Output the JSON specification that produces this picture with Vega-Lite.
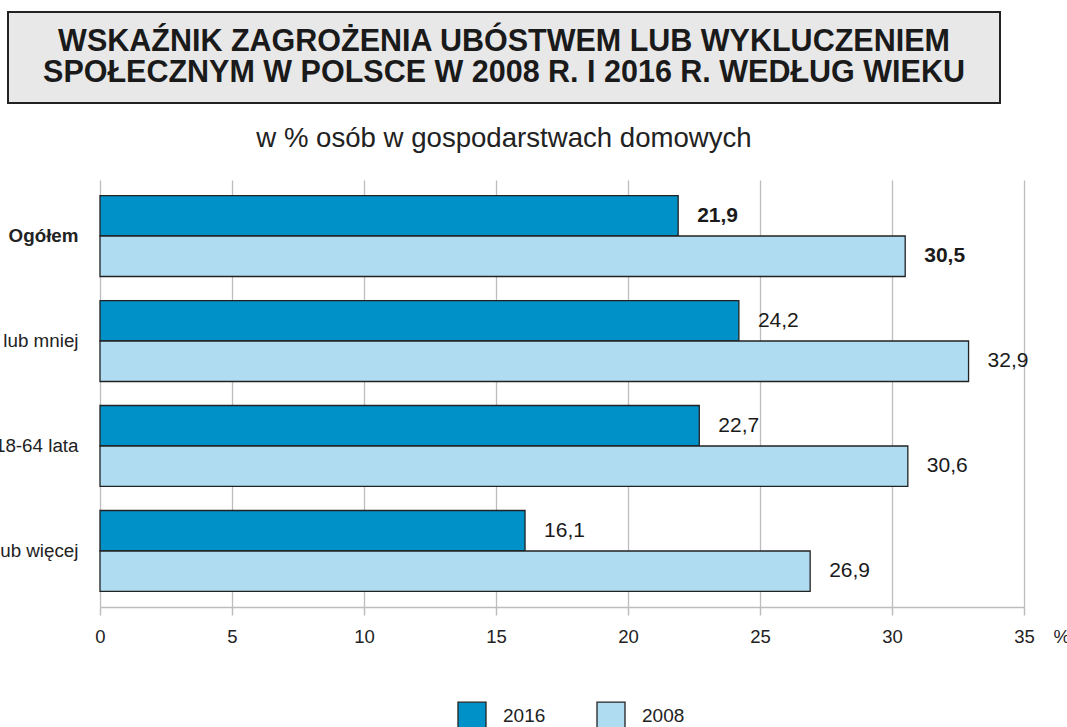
{
  "$schema": "https://vega.github.io/schema/vega-lite/v6.json",
  "padding": {"left": -56, "top": 11, "right": 0, "bottom": 0},
  "autosize": {"type": "pad"},
  "background": "white",
  "config": {
    "font": "Liberation Sans",
    "locale": {"number": {"decimal": ",", "thousands": " ", "grouping": [3], "currency": ["", " zł"]}},
    "view": {"stroke": null},
    "axis": {"labelColor": "#222222", "labelFont": "Liberation Sans", "titleFont": "Liberation Sans"},
    "legend": {"labelFont": "Liberation Sans"},
    "title": {"font": "Liberation Sans"}
  },
  "spacing": 26,
  "resolve": {"legend": {"fill": "independent"}},
  "vconcat": [
    {
      "width": 992,
      "height": 91,
      "view": {"fill": "#E8E8E8", "stroke": "#222222", "strokeWidth": 2},
      "title": {"text": "w % osób w gospodarstwach domowych", "orient": "bottom", "anchor": "middle", "fontSize": 27.6, "fontWeight": "normal", "color": "#222222", "offset": 22},
      "data": {"values": [
        {"linia": 1, "tekst": "WSKAŹNIK ZAGROŻENIA UBÓSTWEM LUB WYKLUCZENIEM"},
        {"linia": 2, "tekst": "SPOŁECZNYM W POLSCE  W 2008 R. I 2016 R. WEDŁUG WIEKU"}
      ]},
      "mark": {"type": "text", "fontSize": 30.5, "fontWeight": "bold", "color": "#1a1a1a", "baseline": "middle"},
      "encoding": {
        "y": {"field": "linia", "type": "ordinal", "scale": {"padding": 0.944}, "axis": null},
        "text": {"field": "tekst"}
      }
    },
    {
      "width": 1016,
      "height": 427,
      "data": {"values": [
        {"grupa": "Ogółem", "rok": "2016", "wartosc": 21.9},
        {"grupa": "Ogółem", "rok": "2008", "wartosc": 30.5},
        {"grupa": "17 lat lub mniej", "rok": "2016", "wartosc": 24.2},
        {"grupa": "17 lat lub mniej", "rok": "2008", "wartosc": 32.9},
        {"grupa": "18-64 lata", "rok": "2016", "wartosc": 22.7},
        {"grupa": "18-64 lata", "rok": "2008", "wartosc": 30.6},
        {"grupa": "65 lat lub więcej", "rok": "2016", "wartosc": 16.1},
        {"grupa": "65 lat lub więcej", "rok": "2008", "wartosc": 26.9}
      ]},
      "encoding": {
        "y": {"field": "grupa", "type": "nominal", "sort": null,
              "scale": {"paddingInner": 0.229, "paddingOuter": 0.148},
              "axis": {"title": null, "domain": false, "ticks": false, "grid": false, "offset": -92, "labelPadding": 22, "labelFontSize": 18.8, "labelLimit": 300,
                       "labelFontWeight": {"condition": {"test": "datum.value === 'Ogółem'", "value": "bold"}, "value": "normal"}}},
        "yOffset": {"field": "rok", "type": "nominal", "sort": ["2016", "2008"], "scale": {"paddingInner": 0, "paddingOuter": 0}},
        "x": {"field": "wartosc", "type": "quantitative", "scale": {"domain": [0, 35], "nice": false, "range": [92, 1016]},
              "axis": {"values": [0, 5, 10, 15, 20, 25, 30, 35], "grid": true, "gridColor": "#BDBDBD", "gridWidth": 1.3,
                       "domainColor": "#BDBDBD", "domainWidth": 1.5, "tickColor": "#BDBDBD", "tickWidth": 1.5, "tickSize": 8,
                       "labelFontSize": 18.5, "labelPadding": 12, "labelFlush": false, "labelOverlap": false,
                       "title": "%", "titleX": 1045, "titleY": 29, "titleAlign": "left", "titleBaseline": "middle",
                       "titleFontSize": 18.5, "titleFontWeight": "normal", "titleColor": "#222222"}}
      },
      "layer": [
        {
          "mark": {"type": "bar", "stroke": "#222222", "strokeWidth": 1.3},
          "encoding": {
            "fill": {"field": "rok", "type": "nominal",
                     "scale": {"domain": ["2016", "2008"], "range": ["#0091C8", "#B0DCF1"]},
                     "legend": {"title": null, "orient": "none", "legendX": 449, "legendY": 521, "direction": "horizontal",
                                "symbolType": "square", "symbolSize": 784, "symbolStrokeColor": "#222222", "symbolStrokeWidth": 1.3,
                                "labelFontSize": 19, "labelOffset": 16, "columnPadding": 48, "labelColor": "#222222", "padding": 0}}
          }
        },
        {
          "transform": [{"filter": "datum.grupa === 'Ogółem'"}],
          "mark": {"type": "text", "align": "left", "baseline": "middle", "dx": 19, "fontSize": 21, "fontWeight": "bold", "color": "#1a1a1a"},
          "encoding": {
            "text": {"field": "wartosc", "type": "quantitative", "format": ".1f"}
          }
        },
        {
          "transform": [{"filter": "datum.grupa !== 'Ogółem'"}],
          "mark": {"type": "text", "align": "left", "baseline": "middle", "dx": 19, "fontSize": 21, "fontWeight": "normal", "color": "#1a1a1a"},
          "encoding": {
            "text": {"field": "wartosc", "type": "quantitative", "format": ".1f"}
          }
        }
      ]
    }
  ]
}
